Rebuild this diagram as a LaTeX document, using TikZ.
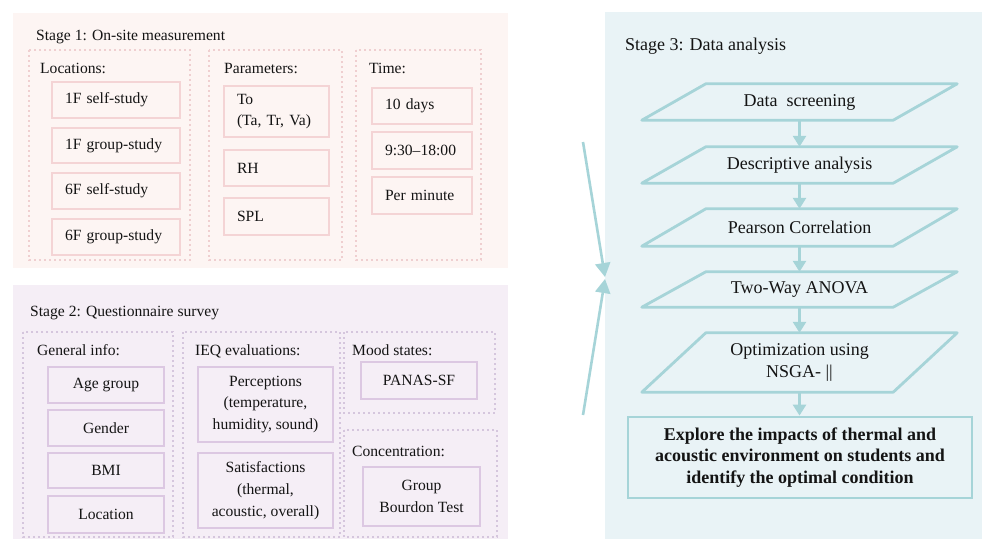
\documentclass[tikz,border=0pt]{standalone}
\usepackage{fontspec}
\setmainfont{Liberation Serif}
\usetikzlibrary{arrows.meta}
\definecolor{bgA}{HTML}{FDF5F3}
\definecolor{bgB}{HTML}{F5EEF6}
\definecolor{bgC}{HTML}{E9F3F6}
\definecolor{lnA}{HTML}{F4D4D5}
\definecolor{lnB}{HTML}{DCC8E2}
\definecolor{lnC}{HTML}{A6D4D8}
\definecolor{dtA}{HTML}{EFCFD0}
\definecolor{dtB}{HTML}{D5C6DD}
\definecolor{txt}{HTML}{141414}
\newcommand\fsA{\fontsize{15.6}{21.7}\selectfont}
\newcommand\fsC{\fontsize{18}{21.6}\selectfont}
\newcommand\mybox[7]{\node[#2, minimum width={(#5-#3)*1pt}, minimum height={(#6-#4)*1pt}] (#1) at ({(#3+#5)/2},{(#4+#6)/2}) {#7};}
\newcommand\myboxl[7]{\node[#2, align=left, inner xsep=13pt, text width={(#5-#3-26)*1pt}, minimum height={(#6-#4)*1pt}] (#1) at ({(#3+#5)/2},{(#4+#6)/2}) {#7};}
\tikzset{
  lbl/.style={anchor=base west, inner sep=0pt, font=\fsA, text=txt},
  lblC/.style={anchor=base west, inner sep=0pt, font=\fsC, text=txt},
  grpA/.style={draw=dtA, line width=2.2pt, dash pattern=on 1.8pt off 3.2pt},
  grpB/.style={draw=dtB, line width=2.2pt, dash pattern=on 1.8pt off 3.2pt},
  boxA/.style={draw=lnA, line width=2.8pt, fill=bgA, font=\fsA, text=txt, inner ysep=0pt},
  boxB/.style={draw=lnB, line width=2.8pt, fill=bgB, font=\fsA, text=txt, align=center, inner sep=0pt},
  par/.style={minimum width=315pt, inner sep=0pt, font=\fsC, text=txt, align=center},
  flow/.style={draw=lnC, line width=2.6pt, -{Triangle[length=11pt,width=13pt]}},
  bigarrow/.style={draw=lnC, line width=2.6pt, -{Triangle[length=14pt,width=15pt]}},
}
\begin{document}
\begin{tikzpicture}[x=1pt,y=-1pt]
\useasboundingbox (0,0) rectangle (982,539);
\fill[white] (0,0) rectangle (982,539);
% panels
\fill[bgA] (13,13) rectangle (508,268);
\fill[bgB] (13,285) rectangle (508,539);
\fill[bgC] (605,12) rectangle (982,539);
% ---------- Stage 1
\node[lbl] (t1) at (36,40) {Stage 1: On-site measurement};
\draw[grpA] (29,50) rectangle (190,260);
\draw[grpA] (209,50) rectangle (342,260);
\draw[grpA] (356,50) rectangle (481,260);
\node[lbl] (gl) at (40,73) {Locations:};
\node[lbl] (gp) at (224,73) {Parameters:};
\node[lbl] (gt) at (369,73) {Time:};
\myboxl{L1}{boxA}{52}{82}{180}{118}{1F self-study}
\myboxl{L2}{boxA}{52}{128}{180}{163}{1F group-study}
\myboxl{L3}{boxA}{52}{173}{180}{209}{6F self-study}
\myboxl{L4}{boxA}{52}{219}{180}{255}{6F group-study}
\myboxl{P1}{boxA}{224}{86}{329}{137}{To\\(Ta, Tr, Va)}
\myboxl{P2}{boxA}{224}{150}{329}{186}{RH}
\myboxl{P3}{boxA}{224}{198}{329}{235}{SPL}
\myboxl{T1}{boxA}{372}{88}{472}{124}{10 days}
\myboxl{T2}{boxA}{372}{132}{472}{169}{9:30–18:00}
\myboxl{T3}{boxA}{372}{177}{472}{214}{Per minute}
% ---------- Stage 2
\node[lbl] (t2) at (30,316) {Stage 2: Questionnaire survey};
\draw[grpB] (23,332) rectangle (173,537);
\draw[grpB] (183,332) rectangle (340,537);
\draw[grpB] (344,332) rectangle (495,413);
\draw[grpB] (344,430) rectangle (497,537);
\node[lbl] (gg) at (37,355) {General info:};
\node[lbl] (gi) at (195,355) {IEQ evaluations:};
\node[lbl] (gm) at (352,355) {Mood states:};
\node[lbl] (gc) at (352,456) {Concentration:};
\mybox{G1}{boxB}{48}{367}{164}{403}{Age group}
\mybox{G2}{boxB}{48}{410}{164}{446}{Gender}
\mybox{G3}{boxB}{48}{453}{164}{488}{BMI}
\mybox{G4}{boxB}{48}{496}{164}{533}{Location}
\mybox{I1}{boxB}{198}{367}{333}{442}{Perceptions\\(temperature,\\humidity, sound)}
\mybox{I2}{boxB}{198}{453}{333}{528}{Satisfactions\\(thermal,\\acoustic, overall)}
\mybox{M1}{boxB}{361}{362}{477}{399}{PANAS-SF}
\mybox{C1}{boxB}{363}{467}{480}{526}{Group\\Bourdon Test}
% ---------- Stage 3
\node[lblC] (t3) at (625,50) {Stage 3: Data analysis};
\node[par, minimum height=36pt] (s1) at (799.5,102) {Data\ \ screening};
\node[par, minimum height=36pt] (s2) at (799.5,165) {Descriptive analysis};
\node[par, minimum height=37pt] (s3) at (799.5,227.5) {Pearson Correlation};
\node[par, minimum height=35pt] (s4) at (799.5,289.5) {Two-Way ANOVA};
\node[par, minimum height=59pt] (s5) at (799.5,362.5) {Optimization using\\NSGA- ||};
\foreach \n in {s1,s2,s3,s4,s5}
  \draw[lnC, line width=2.8pt, line join=round] (\n.south west) -- ([xshift=-64pt]\n.south east) -- (\n.north east) -- ([xshift=64pt]\n.north west) -- cycle;
\node[draw=lnC, line width=2.8pt, minimum width=344pt, minimum height=81pt, inner sep=0pt,
      font=\fsC\bfseries, text=txt, align=center] (fin) at (800,457.5)
  {Explore the impacts of thermal and\\acoustic environment on students and\\identify the optimal condition};
\draw[flow] (s1.south) -- (s2.north);
\draw[flow] (s2.south) -- (s3.north);
\draw[flow] (s3.south) -- (s4.north);
\draw[flow] (s4.south) -- (s5.north);
\draw[flow] (s5.south) -- (s5.south |- fin.north);
% big arrows
\coordinate (a1) at (583,142);
\coordinate (a2) at (583,415);
\coordinate (tipA) at (605,277);
\coordinate (tipB) at (605,279);
\draw[bigarrow] (a1) -- (tipA);
\draw[bigarrow] (a2) -- (tipB);
\end{tikzpicture}
\end{document}
